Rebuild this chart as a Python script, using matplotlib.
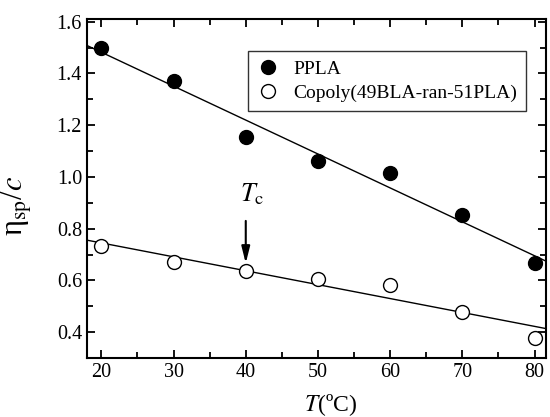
import numpy as np
import matplotlib
matplotlib.use("Agg")
import matplotlib.pyplot as plt
from matplotlib.ticker import MultipleLocator

plt.rcParams['font.family'] = ['Liberation Serif', 'DejaVu Serif']
plt.rcParams['mathtext.fontset'] = 'stix'

# Данные
temps = [20, 30, 40, 50, 60, 70, 80]
ppla = [1.497, 1.372, 1.156, 1.063, 1.015, 0.851, 0.667]
copoly = [0.734, 0.670, 0.636, 0.606, 0.584, 0.477, 0.378]
labels = ["PPLA", "Copoly(49BLA-ran-51PLA)"]
tc_temp = 40

fig = plt.figure(figsize=(5.5, 4.17), dpi=100)
ax = fig.add_axes([0.158, 0.1415, 0.835, 0.8125])

xs = np.array([18, 81.6])
# Линейная аппроксимация для каждой серии
for y in (ppla, copoly):
    k, b = np.polyfit(temps, y, 1)
    ax.plot(xs, k * xs + b, color="black", lw=1.0, zorder=1)

ax.plot(temps, ppla, 'o', ms=10, mfc="black", mec="black", label=labels[0], zorder=3)
ax.plot(temps, copoly, 'o', ms=10, mfc="white", mec="black", mew=1.0, label=labels[1], zorder=3)

# Стрелка T_c
ax.annotate("", xy=(tc_temp, copoly[2] + 0.03), xytext=(tc_temp, 0.83),
            arrowprops=dict(arrowstyle="-|>,head_length=1.0,head_width=0.25",
                            color="black", lw=1.5, shrinkA=0, shrinkB=0))
ax.text(tc_temp + 0.9, 0.885, r"$T_{\rm c}$", fontsize=19, ha="center", va="bottom")

ax.set_xlim(18, 81.6)
ax.set_ylim(0.3, 1.61)
ax.xaxis.set_major_locator(MultipleLocator(10))
ax.xaxis.set_minor_locator(MultipleLocator(5))
ax.yaxis.set_major_locator(MultipleLocator(0.2))
ax.yaxis.set_minor_locator(MultipleLocator(0.1))
ax.tick_params(which="both", direction="in", top=True, right=True, width=1.3, labelsize=14.5)
ax.tick_params(which="major", length=6)
ax.tick_params(which="minor", length=4)
ax.set_yticks([0.4, 0.6, 0.8, 1.0, 1.2, 1.4, 1.6])
ax.set_yticklabels(["0.4", "0.6", "0.8", "1.0", "1.2", "1.4", "1.6"])
for s in ax.spines.values():
    s.set_linewidth(1.5)

ax.set_xlabel(r"$T$(ºC)", fontsize=17)
ax.xaxis.set_label_coords(0.53, -0.1)
ax.set_ylabel("η$_{\\rm sp}$/$c$", fontsize=22)
ax.yaxis.set_label_coords(-0.115, 0.45)

leg = ax.legend(loc="upper left", bbox_to_anchor=(0.35, 0.905), fontsize=14,
                frameon=True, fancybox=False, edgecolor="black", handletextpad=0.7,
                borderpad=0.45, labelspacing=0.35, handlelength=1.2, borderaxespad=0)
leg.get_frame().set_linewidth(1.0)

fig.savefig("out.png", dpi=100)
